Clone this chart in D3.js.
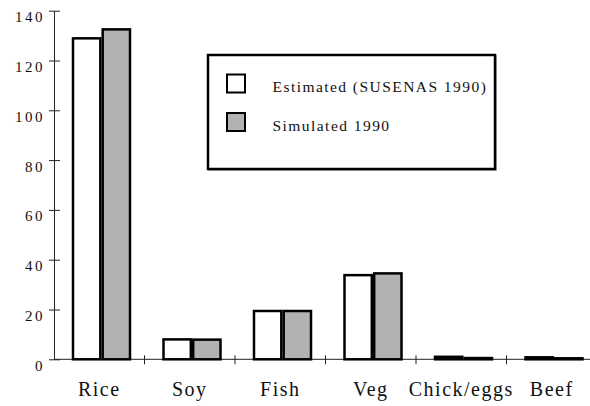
<!DOCTYPE html>
<html>
<head>
<meta charset="utf-8">
<script src="https://cdn.jsdelivr.net/npm/d3@7"></script>
<style>
  body { margin: 0; background: #fff; }
  svg { display: block; }
</style>
</head>
<body>
<svg id="chart" width="590" height="406"></svg>
<script>
(function() {

  // data
  let categories = ["Rice", "Soy", "Fish", "Veg", "Chick/eggs", "Beef"];
  let seriesNames = ["Estimated (SUSENAS 1990)", "Simulated 1990"];
  let estimated = [128.9, 8.0, 19.4, 33.8, 1.0, 0.8];
  let simulated = [132.5, 7.9, 19.4, 34.5, 0.5, 0.4];
  let yTicks = [0, 20, 40, 60, 80, 100, 120, 140];
  let fills = ["#ffffff", "#b2b2b2"];

  let font = "Liberation Serif";
  let w = 590;
  let left = 54;
  let top = 10.7;
  let bottom = 359.3;

  let svg = d3.select("#chart");

  let xScale = d3.scaleBand()
                 .domain(categories)
                 .range([left, left + 6 * 90.5])
                 .padding(0);
  let xInner = d3.scaleBand()
                 .domain(seriesNames)
                 .range([19, 76])
                 .paddingInner(0.08);
  let yScale = d3.scaleLinear()
                 .domain([0, 140])
                 .range([bottom, top]);

  // y axis
  let yAxis = d3.axisLeft()
                .scale(yScale)
                .tickValues(yTicks)
                .tickSize(0)
                .tickPadding(12);
  let gy = svg.append("g")
     .attr("transform", "translate(" + left + ",0)")
     .call(yAxis)
     .attr("font-family", font);
  gy.select(".domain").attr("stroke", "#222").attr("stroke-width", 1);
  gy.selectAll(".tick line")
    .attr("x1", -5).attr("x2", 6)
    .attr("stroke", "#222");
  gy.selectAll(".tick text")
    .attr("font-family", font)
    .attr("font-size", "15px")
    .attr("letter-spacing", "2.5px")
    .attr("fill", "#111")
    .attr("dy", "11")
    .attr("x", -9);

  // x axis line with separator ticks between categories
  svg.append("line")
     .attr("x1", left).attr("x2", w)
     .attr("y1", bottom).attr("y2", bottom)
     .attr("stroke", "#222").attr("stroke-width", 1);
  svg.selectAll(".sep")
     .data(categories.slice(1))
     .enter()
     .append("line")
     .attr("class", "sep")
     .attr("x1", d => xScale(d)).attr("x2", d => xScale(d))
     .attr("y1", bottom - 4).attr("y2", bottom + 5)
     .attr("stroke", "#222").attr("stroke-width", 1);

  svg.selectAll(".cat")
     .data(categories)
     .enter()
     .append("text")
     .attr("class", "cat")
     .attr("text-anchor", "middle")
     .attr("x", d => xScale(d) + xScale.bandwidth() / 2)
     .attr("y", 396)
     .attr("font-family", font)
     .attr("font-size", "20px")
     .attr("letter-spacing", "1.5px")
     .attr("fill", "#111")
     .text(d => d);

  // bars
  let rows = categories.map((c, i) => ({cat: c, vals: [estimated[i], simulated[i]]}));
  let groups = svg.selectAll(".grp")
     .data(rows)
     .enter()
     .append("g")
     .attr("class", "grp")
     .attr("transform", d => "translate(" + xScale(d.cat) + ",0)");
  groups.selectAll("rect")
     .data(d => d.vals.map((v, j) => ({name: seriesNames[j], v: v, j: j})))
     .enter()
     .append("rect")
     .attr("x", d => xInner(d.name))
     .attr("width", xInner.bandwidth())
     .attr("y", d => yScale(d.v))
     .attr("height", d => yScale(0) - yScale(d.v))
     .attr("fill", d => fills[d.j])
     .attr("stroke", "#000")
     .attr("stroke-width", 2.5);

  // legend
  let legend = svg.append("g");
  legend.append("rect")
     .attr("x", 209).attr("y", 56)
     .attr("width", 287).attr("height", 114)
     .attr("fill", "none")
     .attr("stroke", "#999")
     .attr("stroke-width", 1.5);
  legend.append("rect")
     .attr("x", 208).attr("y", 55)
     .attr("width", 287).attr("height", 114)
     .attr("fill", "#fff")
     .attr("stroke", "#000")
     .attr("stroke-width", 2.5);
  let items = legend.selectAll(".item")
     .data(seriesNames)
     .enter()
     .append("g")
     .attr("class", "item")
     .attr("transform", (d, i) => "translate(0," + (i * 38.5) + ")");
  items.append("rect")
     .attr("x", 227).attr("y", 74.5)
     .attr("width", 18).attr("height", 18)
     .attr("fill", (d, i) => fills[i])
     .attr("stroke", "#000")
     .attr("stroke-width", 2);
  items.append("text")
     .attr("x", 272.5).attr("y", 92)
     .attr("font-family", font)
     .attr("font-size", "15.5px")
     .attr("letter-spacing", "1.45px")
     .attr("fill", "#111")
     .text(d => d);

})();
</script>
</body>
</html>
